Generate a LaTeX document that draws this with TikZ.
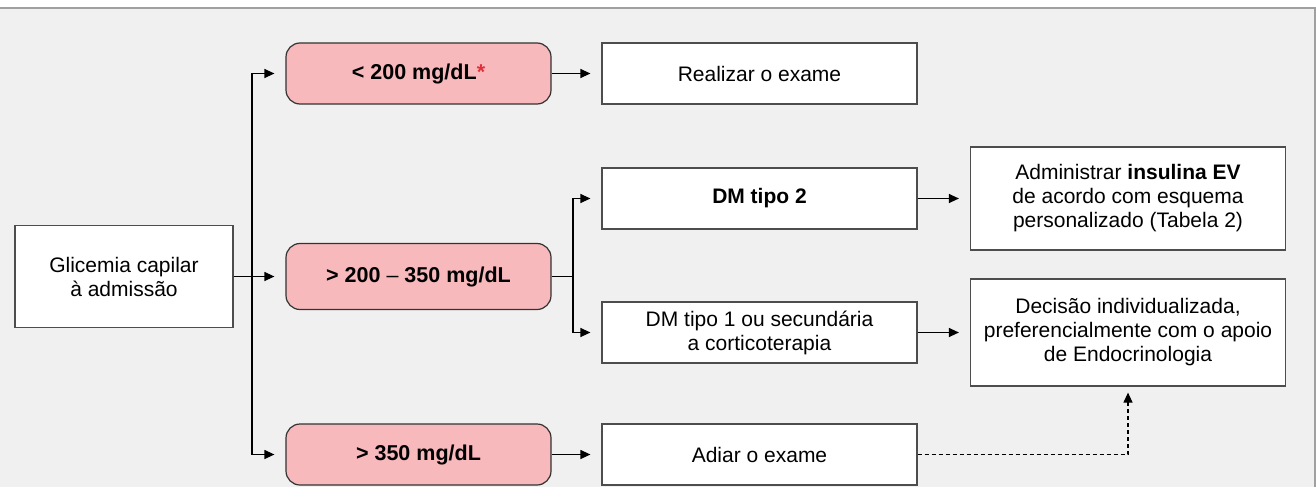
\documentclass[tikz,border=0pt]{standalone}
\usepackage{fontspec}
\setmainfont{Liberation Sans}
\usetikzlibrary{arrows.meta, positioning}
\definecolor{bgGray}{HTML}{F0F0F0}
\definecolor{frameGray}{HTML}{A0A0A0}
\definecolor{boxLine}{HTML}{4D4D4D}
\definecolor{rangePink}{HTML}{F8B9BC}
\definecolor{starRed}{HTML}{E0303A}
\tikzset{
    stepBox/.style={draw=boxLine, fill=white, line width=1.2pt, minimum width=315pt, minimum height=61pt, align=center, inner sep=0pt, font=\fontsize{21}{24}\selectfont},
    rangeBox/.style={draw=black!80, fill=rangePink, line width=1.2pt, rounded corners=14pt, minimum width=265pt, minimum height=61pt, inner sep=0pt, font=\fontsize{21.5}{24}\selectfont\bfseries},
    flowArrow/.style={-{Triangle[length=10pt, width=9pt]}, line width=1.2pt, shorten >=11pt}
}

\begin{document}
\begin{tikzpicture}[x=1pt, y=-1pt]
    \useasboundingbox (0,0) rectangle (1316,487);
    \fill[bgGray] (0,8) rectangle (1315,487);
    \draw[frameGray, line width=1.5pt] (0,8) -- (1315,8) -- (1315,487);

    % admission and glucose ranges
    \node[stepBox, minimum width=218pt, minimum height=102pt] (glic) at (124,276.5) {Glicemia capilar\\à admissão};
    \node[rangeBox] (lt) at (418.5,73.5) {< 200 mg/dL\textcolor{starRed}{*}};
    \node[rangeBox, minimum height=66pt] (mid) at (418.5,276.5) {> 200 {\mdseries –} 350 mg/dL};
    \node[rangeBox] (gt) at (418.5,454.5) {> 350 mg/dL};

    % conduct
    \node[stepBox] (realizar) at (759.5,73.5) {Realizar o exame};
    \node[stepBox] (dm2) at (759.5,198.5) {\bfseries DM tipo 2};
    \node[stepBox] (dm1) at (759.5,332.5) {DM tipo 1 ou secundária\\a corticoterapia};
    \node[stepBox] (adiar) at (759.5,454.5) {Adiar o exame};
    \node[stepBox, minimum height=103pt] (insulina) at (1128,198.5) {Administrar \textbf{insulina EV}\\de acordo com esquema\\personalizado (Tabela 2)};
    \node[stepBox, minimum height=107pt] (decisao) at (1128,332.5) {Decisão individualizada,\\preferencialmente com o apoio\\de Endocrinologia};

    \coordinate (split) at (252,276.5);
    \coordinate (fork) at (573,276.5);

    \draw[flowArrow] (glic.east) -- (mid.west);
    \draw[flowArrow] (glic.east) -- (split) |- (lt.west);
    \draw[flowArrow] (glic.east) -- (split) |- (gt.west);
    \draw[flowArrow] (lt.east) -- (realizar.west);
    \draw[flowArrow] (gt.east) -- (adiar.west);
    \draw[flowArrow] (mid.east) -- (fork) |- (dm2.west);
    \draw[flowArrow] (mid.east) -- (fork) |- (dm1.west);
    \draw[flowArrow] (dm2.east) -- (insulina.west);
    \draw[flowArrow] (dm1.east) -- (decisao.west);
    \draw[flowArrow, dash pattern=on 4pt off 3pt, shorten >=6pt] (adiar.east) -| (decisao.south);
\end{tikzpicture}
\end{document}
